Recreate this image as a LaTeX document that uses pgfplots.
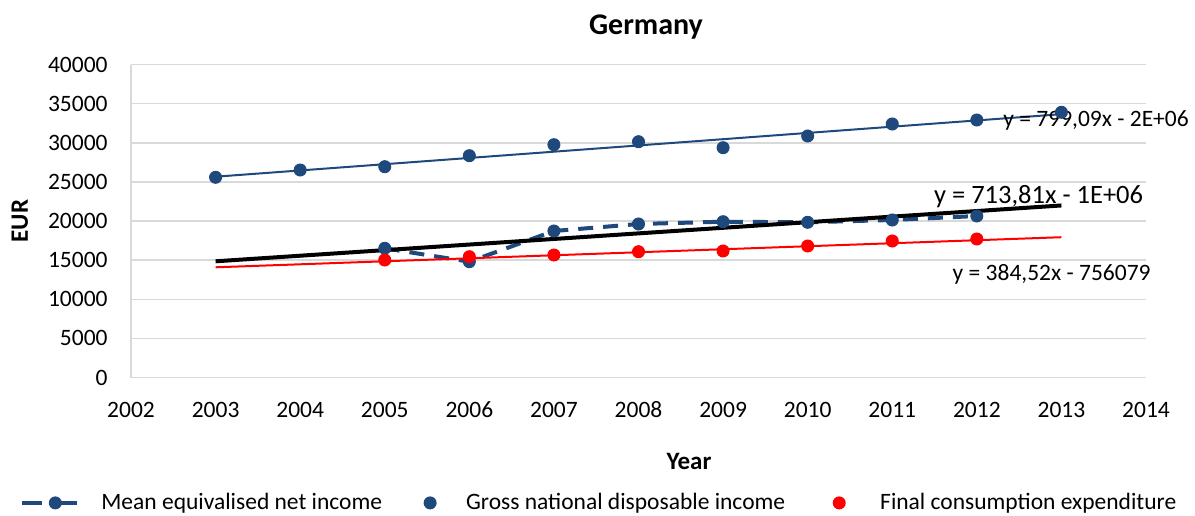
\documentclass[border=0pt]{standalone}
\usepackage{fontspec}
\setmainfont{Carlito}
\usepackage{pgfplots}
\pgfplotsset{compat=1.18}
\definecolor{navy}{RGB}{31,73,125}
\definecolor{gridgray}{RGB}{217,217,217}
\newcommand\fs{\fontsize{11.75pt}{14pt}\selectfont}

\begin{document}
\begin{tikzpicture}
\useasboundingbox (0,0) rectangle (597.5pt,257.5pt);
\begin{axis}[
    at={(65.5pt,68.75pt)}, anchor=south west,
    scale only axis, width=507.5pt, height=156.5pt,
    xmin=2002, xmax=2014, ymin=0, ymax=40000,
    xtick distance=1, ytick distance=5000,
    scaled y ticks=false, clip=false,
    /pgf/number format/assume math mode=true,
    /pgf/number format/1000 sep={},
    ticklabel style={font=\fs},
    xticklabel style={anchor=north, inner sep=0pt, yshift=-12pt},
    yticklabel style={anchor=east, inner sep=0pt, xshift=-11.5pt},
    major tick length=0pt,
    ymajorgrids, grid style={gridgray, line width=0.75pt},
    axis x line*=bottom, axis y line*=left,
    axis line style={-, gridgray, line width=0.75pt},
    xlabel={Year},
    xlabel style={at={(axis description cs:0.5498,-0.2698)}, anchor=center,
        font=\bfseries\fontsize{12.5pt}{15pt}\selectfont},
    ylabel={EUR},
    ylabel style={at={(axis description cs:-0.1094,0.5)}, anchor=center,
        font=\bfseries\fontsize{12.5pt}{15pt}\selectfont},
    legend columns=3,
    legend style={at={(axis description cs:-0.1094,-0.4007)}, anchor=west,
        draw=none, fill=none, inner sep=0pt, font=\fs,
        nodes={inner sep=0pt, anchor=west},
        /tikz/column 1/.style={column sep=11pt},
        /tikz/column 2/.style={column sep=14pt},
        /tikz/column 3/.style={column sep=8pt},
        /tikz/column 4/.style={column sep=17pt},
        /tikz/column 5/.style={column sep=10.5pt}},
]
% Mean equivalised net income
\addplot[navy, line width=2pt, dash pattern=on 7.5pt off 5pt,
    mark=*, mark size=3pt, mark options={solid, line width=0.5pt, fill=navy, draw=navy},
    legend image code/.code={
        \fill[navy, draw=none] (16.5pt,0pt) circle (3.25pt);
        \draw[navy, solid, line width=2pt] (0pt,0pt) -- (10pt,0pt);
        \draw[navy, solid, line width=2pt] (13.5pt,0pt) -- (27.5pt,0pt);}]
    coordinates {(2005,16512) (2006,14799) (2007,18723) (2008,19617)
                 (2009,19911) (2010,19835) (2011,20129) (2012,20640)};
\addlegendentry{Mean equivalised net income}
% Gross national disposable income
\addplot[navy, only marks, mark=*, mark size=3pt,
    mark options={line width=0.5pt, fill=navy, draw=navy},
    legend image code/.code={
        \path[draw=none, fill=none] (0pt,-3pt) rectangle (20pt,3pt);
        \fill[navy, draw=none] (10pt,0pt) circle (3.25pt);}]
    coordinates {(2003,25585) (2004,26518) (2005,26940) (2006,28346)
                 (2007,29752) (2008,30135) (2009,29368) (2010,30864)
                 (2011,32397) (2012,32909) (2013,33893)};
\addlegendentry{Gross national disposable income}
% Final consumption expenditure
\addplot[red, only marks, mark=*, mark size=3pt,
    mark options={line width=0.5pt, fill=red, draw=red},
    legend image code/.code={
        \path[draw=none, fill=none] (0pt,-3pt) rectangle (20pt,3pt);
        \fill[red, draw=none] (10pt,0pt) circle (3.25pt);}]
    coordinates {(2005,15017) (2006,15438) (2007,15656) (2008,16077)
                 (2009,16167) (2010,16806) (2011,17445) (2012,17700)};
\addlegendentry{Final consumption expenditure}
% trend lines
\addplot[forget plot, navy, line width=1pt] coordinates {(2003,25662) (2013,33653)};
\addplot[forget plot, black, line width=2pt] coordinates {(2003,14850) (2013,21988)};
\addplot[forget plot, red, line width=1pt] coordinates {(2003,14084) (2013,17929)};
\node[anchor=west, inner sep=0pt, font=\fs] at (axis cs:2012.31,32908) {y = 799,09x - 2E+06};
\node[anchor=west, inner sep=0pt, font=\fontsize{13.25pt}{16pt}\selectfont] at (axis cs:2011.49,23067) {y = 713,81x - 1E+06};
\node[anchor=west, inner sep=0pt, font=\fs] at (axis cs:2011.71,13227) {y = 384,52x - 756079};
\node[anchor=center, inner sep=0pt, font=\bfseries\fontsize{15pt}{18pt}\selectfont]
    at (axis description cs:0.5074,1.119) {Germany};
\end{axis}
\end{tikzpicture}
\end{document}
